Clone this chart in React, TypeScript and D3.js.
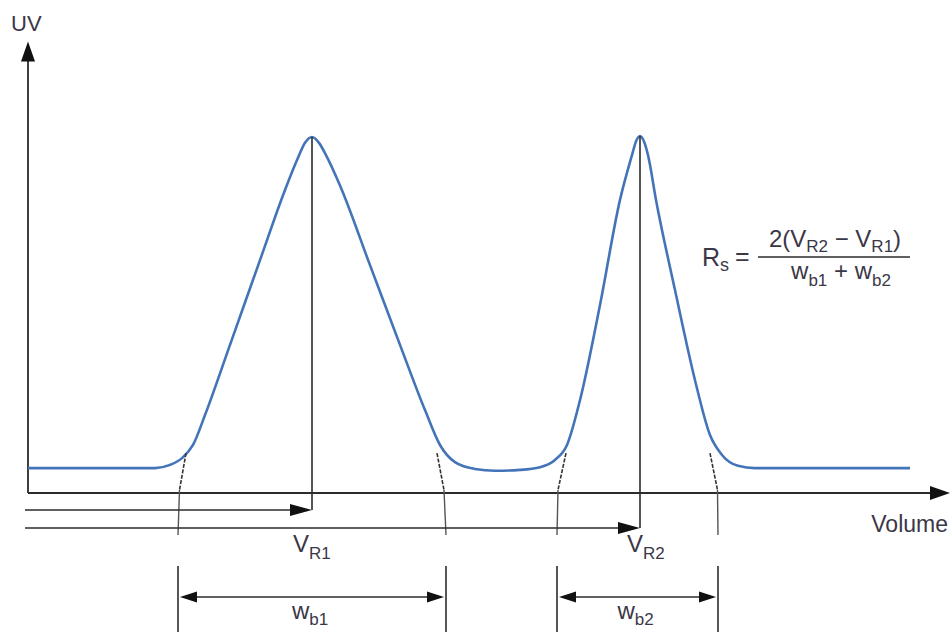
import React from "react";
import * as d3 from "d3";

// ---- data ----
const volume = [0, 6.35, 7.1, 7.7, 8.25, 8.85, 10.1, 11.6, 12.85, 13.5, 13.85, 14.2, 14.55, 14.9, 15.6, 17.1, 18.6, 19.85, 20.6, 21.35, 22.35, 23.35, 24.6, 25.6, 26.35, 26.95, 27.6, 28.6, 29.6, 30.2, 30.4, 30.6, 30.8, 31.0, 31.4, 32.35, 33.35, 34.1, 34.7, 35.5, 36.35, 44.1];
const uv = [5.5, 5.5, 6.2, 7.7, 10.6, 17.2, 32.7, 51.4, 66.9, 74.0, 77.3, 78.6, 77.3, 74.6, 67.9, 50.3, 32.7, 18.3, 10.6, 6.8, 5.3, 4.9, 5.1, 5.7, 7.3, 10.6, 20.5, 41.5, 64.7, 74.6, 77.6, 78.8, 77.6, 74.6, 64.7, 44.8, 24.9, 12.8, 8.4, 6.0, 5.5, 5.5];
const peakVolumes = [14.2, 30.6];
const peakHeights = [78.6, 78.8];
const peakLabels = ["R1", "R2"];
const widthLabels = ["b1", "b2"];
const baseStart = [7.5, 26.45];
const baseEnd = [20.9, 34.5];
const tangentTops = [7.9, 20.45, 26.9, 34.1];
const tangentBends = [7.575, 20.8, 26.5, 34.475];
const tangentFeet = [7.5, 20.9, 26.45, 34.5];
const tangentTopUV = 8.8;

const W = 952;
const H = 632;
const x = d3.scaleLinear().domain([0, 46]).range([28, 948]);
const y = d3.scaleLinear().domain([0, 100]).range([493, 40]);

const INK = "#2b2b2b";
const TEXT = "#3b3747";
const BLUE = "#4474b8";
const FONT = "'Liberation Sans', Arial, sans-serif";

function arrowHead(tx: number, ty: number, dir: "up" | "right" | "left", len = 18, half = 6.5) {
  if (dir === "up") return `M${tx},${ty} L${tx - half},${ty + len} L${tx + half},${ty + len} Z`;
  if (dir === "right") return `M${tx},${ty} L${tx - len},${ty - half} L${tx - len},${ty + half} Z`;
  return `M${tx},${ty} L${tx + len},${ty - half} L${tx + len},${ty + half} Z`;
}

export default function App() {
  const line = d3
    .line<number>()
    .x((_, i) => x(volume[i]))
    .y((d) => y(d))
    .curve(d3.curveMonotoneX);
  const path = line(uv) || "";

  const axisY = y(0);
  const rowY = [510, 528];
  const wbY = 597;

  return (
    <svg
      width={W}
      height={H}
      style={{ position: "absolute", left: 0, top: 0, background: "#fff" }}
      fontFamily={FONT}
    >
      {/* Y axis */}
      <line x1={x(0)} y1={axisY} x2={x(0)} y2={y(99) + 10} stroke={INK} strokeWidth={1.8} />
      <path d={arrowHead(x(0), y(99) - 3, "up", 20, 7)} fill="#111" />
      <text x={11} y={31} fontSize={22} fill={TEXT}>UV</text>

      {/* X axis */}
      <line x1={x(0)} y1={axisY} x2={x(46) - 8} y2={axisY} stroke={INK} strokeWidth={1.8} />
      <path d={arrowHead(x(46) + 2, axisY, "right", 20, 7)} fill="#111" />
      <text x={948} y={532} fontSize={23} fill={TEXT} textAnchor="end">Volume</text>

      {/* chromatogram */}
      <path d={path} fill="none" stroke={BLUE} strokeWidth={2.6} strokeLinejoin="round" />

      {/* tangent lines */}
      {tangentTops.map((t, i) => (
        <g key={"tg" + i}>
          <line x1={x(t)} y1={y(tangentTopUV)} x2={x(tangentBends[i])} y2={axisY - 3}
            stroke="#333" strokeWidth={1.6} strokeDasharray="4,1.5" />
          <line x1={x(tangentBends[i])} y1={axisY - 3} x2={x(tangentFeet[i])} y2={535}
            stroke="#555" strokeWidth={1.4} />
        </g>
      ))}

      {/* retention volume lines */}
      {peakVolumes.map((v, i) => (
        <g key={"vr" + i}>
          <line x1={x(v)} y1={y(peakHeights[i])} x2={x(v)} y2={rowY[i]} stroke={INK} strokeWidth={1.6} />
          <line x1={x(0) - 3} y1={rowY[i]} x2={x(v) - 10} y2={rowY[i]} stroke={INK} strokeWidth={1.6} />
          <path d={arrowHead(x(v), rowY[i], "right", 22, 6)} fill="#111" />
          <text x={x(v) - 19 + i * 6} y={552} fontSize={24} fill={TEXT}>
            V<tspan fontSize={17} dy={7}>{peakLabels[i]}</tspan>
          </text>
        </g>
      ))}

      {/* base widths */}
      {baseStart.map((s, i) => {
        const e = baseEnd[i];
        const mid = (x(s) + x(e)) / 2;
        return (
          <g key={"wb" + i}>
            <line x1={x(s)} y1={566} x2={x(s)} y2={632} stroke={INK} strokeWidth={1.6} />
            <line x1={x(e)} y1={566} x2={x(e)} y2={632} stroke={INK} strokeWidth={1.6} />
            <line x1={x(s) + 10} y1={wbY} x2={x(e) - 10} y2={wbY} stroke={INK} strokeWidth={1.6} />
            <path d={arrowHead(x(s) + 2, wbY, "left", 17, 5.5)} fill="#111" />
            <path d={arrowHead(x(e) - 2, wbY, "right", 17, 5.5)} fill="#111" />
            <text x={mid - 20} y={619} fontSize={24} fill={TEXT}>
              w<tspan fontSize={17} dy={6}>{widthLabels[i]}</tspan>
            </text>
          </g>
        );
      })}

      {/* formula */}
      <text x={702} y={266} fontSize={25} fill={TEXT}>
        R<tspan fontSize={18} dy={5}>s</tspan>
      </text>
      <text x={735} y={265} fontSize={25} fill={TEXT}>=</text>
      <line x1={758} y1={257} x2={910} y2={257} stroke={INK} strokeWidth={1.6} />
      <text x={835} y={247} fontSize={24} fill={TEXT} textAnchor="middle">
        2(V<tspan fontSize={17} dy={5}>R2</tspan>
        <tspan dy={-5}> − V</tspan>
        <tspan fontSize={17} dy={5}>R1</tspan>
        <tspan dy={-5}>)</tspan>
      </text>
      <text x={841} y={279} fontSize={24} fill={TEXT} textAnchor="middle">
        w<tspan fontSize={17} dy={7}>b1</tspan>
        <tspan dy={-7}> + w</tspan>
        <tspan fontSize={17} dy={7}>b2</tspan>
      </text>
    </svg>
  );
}
